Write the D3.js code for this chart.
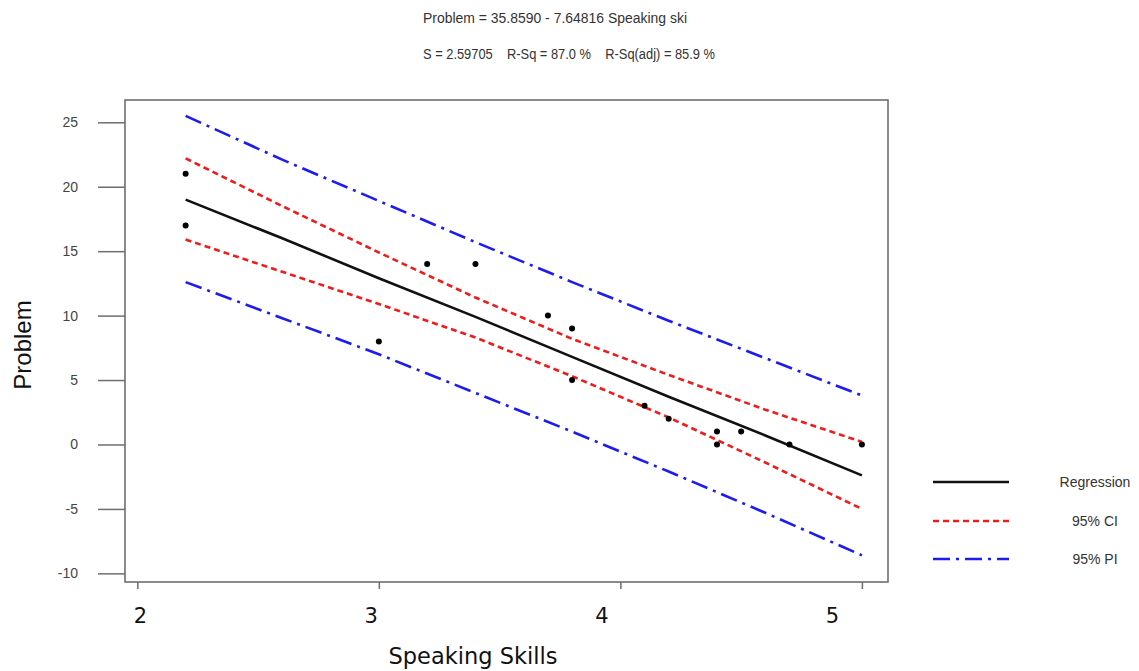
<!DOCTYPE html>
<html>
<head>
<meta charset="utf-8">
<script src="https://cdn.jsdelivr.net/npm/d3@7"></script>
<style>
  body { margin: 0; background: #fff; }
  svg { display: block; }
  .sans { font-family: "Liberation Sans", Arial, sans-serif; }
</style>
</head>
<body>
<div id="chart"></div>
<script>
// observations
const speaking = [2.2, 2.2, 3.0, 3.2, 3.4, 3.7, 3.8, 3.8, 4.1, 4.2, 4.4, 4.4, 4.5, 4.7, 5.0];
const problem = [21, 17, 8, 14, 14, 10, 9, 5, 3, 2, 1, 0, 1, 0, 0];

// fitted line and bands
const bandX = [2.2, 2.6, 3.0, 3.4, 3.8, 4.2, 4.6, 5.0];
const fitY = [19.0, 16.0, 12.9, 9.9, 6.8, 3.7, 0.7, -2.4];
const ciUpper = [22.2, 18.5, 14.9, 11.4, 8.2, 5.4, 2.7, 0.2];
const ciLower = [15.9, 13.4, 10.9, 8.3, 5.3, 2.1, -1.4, -5.0];
const piUpper = [25.5, 22.1, 18.9, 15.7, 12.6, 9.6, 6.7, 3.8];
const piLower = [12.6, 9.8, 7.0, 4.0, 1.0, -2.1, -5.3, -8.6];

const xTicks = [2, 3, 4, 5];
const yTicks = [25, 20, 15, 10, 5, 0, -5, -10];
const titleLines = [
  "Problem = 35.8590 - 7.64816 Speaking ski",
  "S = 2.59705\u00a0\u00a0\u00a0 R-Sq = 87.0 %\u00a0\u00a0\u00a0 R-Sq(adj) = 85.9 %",
];
const legendLabels = ["Regression", "95% CI", "95% PI"];

const width = 1139;
const height = 671;
const margin = { top: 100, right: 251, bottom: 89, left: 125 };

const lineStyles = [
  { values: fitY, color: "#111", dash: null },
  { values: ciUpper, color: "#f01c1c", dash: "6 4" },
  { values: ciLower, color: "#f01c1c", dash: "6 4" },
  { values: piUpper, color: "#1c1cf0", dash: "17 6 3 6" },
  { values: piLower, color: "#1c1cf0", dash: "17 6 3 6" },
];
const legendStyles = [lineStyles[0], lineStyles[1], lineStyles[3]];

const x = d3.scaleLinear()
  .domain([1.949, 5.108])
  .range([margin.left, width - margin.right]);
const y = d3.scaleLinear()
  .domain([-10.67, 26.73])
  .range([height - margin.bottom, margin.top]);
// the tick labels sit a little off the tick marks in the original
const xLabel = d3.scaleLinear().domain([2, 5]).range([140, 832]);

const svg = d3.select("#chart")
  .append("svg")
  .attr("width", width)
  .attr("height", height)
  .attr("viewBox", [0, 0, width, height]);

// title
svg.append("g")
  .attr("class", "sans")
  .selectAll("text")
  .data(titleLines)
  .join("text")
  .attr("x", 423)
  .attr("y", (d, i) => (i === 0 ? 23 : 59))
  .attr("font-size", 14)
  .attr("textLength", (d, i) => (i === 0 ? 264 : 292))
  .attr("lengthAdjust", "spacingAndGlyphs")
  .attr("fill", "#333")
  .text((d) => d);

// y axis
const gY = svg.append("g")
  .attr("class", "sans")
  .attr("transform", `translate(${margin.left},0)`)
  .call(
    d3.axisLeft(y)
      .tickValues(yTicks)
      .tickSize(27)
      .tickPadding(20)
      .tickFormat((d) => String(d))
  );
gY.select(".domain").remove();
gY.selectAll(".tick line").attr("stroke", "#6e6e6e").attr("stroke-width", 1.5);
gY.selectAll(".tick text").attr("font-size", 14).attr("fill", "#444");

// x axis tick marks
const gX = svg.append("g")
  .attr("transform", `translate(0,${height - margin.bottom})`)
  .call(d3.axisBottom(x).tickValues(xTicks).tickSize(7).tickFormat(""));
gX.select(".domain").remove();
gX.selectAll(".tick line").attr("stroke", "#6e6e6e").attr("stroke-width", 1.5);

// x axis labels
const gXL = svg.append("g")
  .attr("transform", `translate(0,${height - margin.bottom})`)
  .call(d3.axisBottom(xLabel).tickValues(xTicks).tickSize(0).tickFormat((d) => String(d)));
gXL.select(".domain").remove();
gXL.selectAll(".tick text")
  .attr("y", 41)
  .attr("dy", null)
  .attr("font-family", "'DejaVu Sans', Verdana, sans-serif")
  .attr("font-size", 21)
  .attr("fill", "#111");

// axis titles
svg.append("text")
  .attr("x", 473)
  .attr("y", 664)
  .attr("text-anchor", "middle")
  .attr("font-family", "'DejaVu Sans', Verdana, sans-serif")
  .attr("font-size", 22.5)
  .attr("fill", "#111")
  .text("Speaking Skills");

svg.append("text")
  .attr("class", "sans")
  .attr("transform", "translate(31,345) rotate(-90)")
  .attr("text-anchor", "middle")
  .attr("font-size", 24)
  .attr("fill", "#111")
  .text("Problem");

// plot frame
svg.append("rect")
  .attr("x", margin.left)
  .attr("y", margin.top)
  .attr("width", width - margin.left - margin.right)
  .attr("height", height - margin.top - margin.bottom)
  .attr("fill", "none")
  .attr("stroke", "#6e6e6e")
  .attr("stroke-width", 1.6);

// lines
const line = d3.line()
  .x((d, i) => x(bandX[i]))
  .y((d) => y(d));

svg.append("g")
  .selectAll("path")
  .data(lineStyles)
  .join("path")
  .attr("fill", "none")
  .attr("stroke", (d) => d.color)
  .attr("stroke-width", 2.6)
  .attr("stroke-dasharray", (d) => d.dash)
  .attr("d", (d) => line(d.values));

// points
svg.append("g")
  .selectAll("circle")
  .data(speaking)
  .join("circle")
  .attr("cx", (d) => x(d))
  .attr("cy", (d, i) => y(problem[i]))
  .attr("r", 3)
  .attr("fill", "#000");

// legend
const legend = svg.append("g")
  .selectAll("g")
  .data(legendLabels)
  .join("g")
  .attr("transform", (d, i) => `translate(0,${[482, 521, 559][i]})`);

legend.append("line")
  .attr("x1", 933)
  .attr("x2", 1009)
  .attr("stroke", (d, i) => legendStyles[i].color)
  .attr("stroke-width", 2.6)
  .attr("stroke-dasharray", (d, i) => legendStyles[i].dash);

legend.append("text")
  .attr("class", "sans")
  .attr("x", 1095)
  .attr("dy", "0.35em")
  .attr("text-anchor", "middle")
  .attr("font-size", 14)
  .attr("fill", "#333")
  .text((d) => d);
</script>
</body>
</html>
